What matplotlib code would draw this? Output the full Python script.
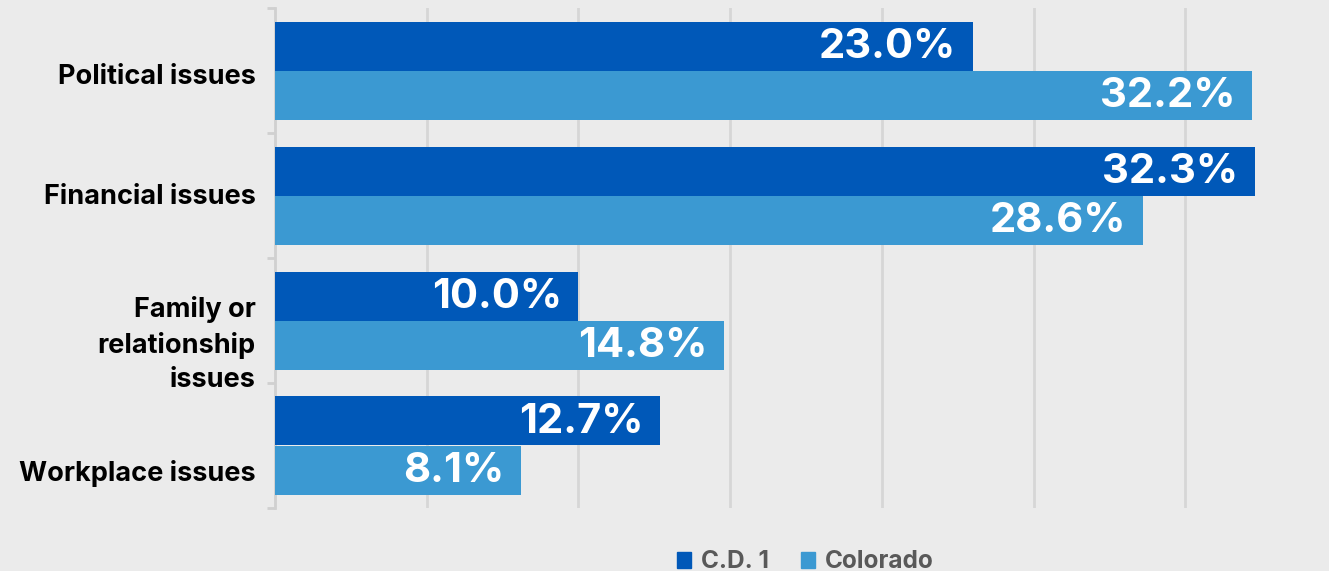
import matplotlib.pyplot as plt
import matplotlib.transforms as mtransforms
import numpy as np
from matplotlib.patches import Patch

categories = ['Political issues', 'Financial issues', 'Family or\nrelationship\nissues', 'Workplace issues']
cd1 = [23.0, 32.3, 10.0, 12.7]
colorado = [32.2, 28.6, 14.8, 8.1]
series_names = ['C.D. 1', 'Colorado']
label_shift_px = [4, -2, 17, 25]

dark = '#0058b8'
light = '#3b99d2'
bg = '#ebebeb'
grid = '#d6d6d6'

plt.rcParams['font.family'] = ['Inter', 'DejaVu Sans']
plt.rcParams['font.weight'] = 'bold'

fig = plt.figure(figsize=(13.29, 5.71), dpi=100, facecolor=bg)
ax = fig.add_axes([275/1329, 63/571, 1 - 275/1329, 500/571])
ax.set_facecolor(bg)

y = np.arange(len(categories))
h = 0.392
b1 = ax.barh(y - h/2, cd1, height=h, color=dark, zorder=3)
b2 = ax.barh(y + h/2, colorado, height=h, color=light, zorder=3)

for bars, vals in [(b1, cd1), (b2, colorado)]:
    for bar, v in zip(bars, vals):
        ax.annotate(f'{v:.1f}%', (bar.get_width(), bar.get_y() + bar.get_height()/2),
                    xytext=(-12, -1), textcoords='offset points',
                    ha='right', va='center', color='white', fontsize=30,
                    fontweight='bold', zorder=4)

ax.set_xlim(0, (1329 - 275) / 30.34)
ax.set_ylim(len(categories) - 0.5, -0.5)
ax.set_xticks([5, 10, 15, 20, 25, 30])
ax.xaxis.grid(True, color=grid, linewidth=2, zorder=0)
ax.tick_params(axis='x', length=0, labelbottom=False)

ax.set_yticks(np.arange(len(categories) + 1) - 0.5)
ax.set_yticklabels([])
ax.tick_params(axis='y', which='major', length=6, width=2, color='#d0d0d0')
ax.set_yticks(y, minor=True)
ax.set_yticklabels(categories, minor=True, fontsize=19.5, fontweight='bold',
                   ha='right', multialignment='right', linespacing=1.4)
ax.tick_params(axis='y', which='minor', length=0, pad=14)
for lab, dy in zip(ax.get_yticklabels(minor=True), label_shift_px):
    lab.set_transform(lab.get_transform() + mtransforms.Affine2D().translate(0, -dy))

for s in ['top', 'right', 'bottom']:
    ax.spines[s].set_visible(False)
ax.spines['left'].set_color('#d0d0d0')
ax.spines['left'].set_linewidth(2)

handles = [Patch(color=dark), Patch(color=light)]
leg = fig.legend(handles, series_names, loc='center', bbox_to_anchor=(0.606, 9/571),
                 ncol=2, frameon=False, fontsize=17.5, handlelength=0.6, handleheight=0.6,
                 handletextpad=0.4, columnspacing=1.3)
for t in leg.get_texts():
    t.set_color('#595959')
    t.set_fontweight('bold')

fig.savefig('out.png', dpi=100, facecolor=bg)
